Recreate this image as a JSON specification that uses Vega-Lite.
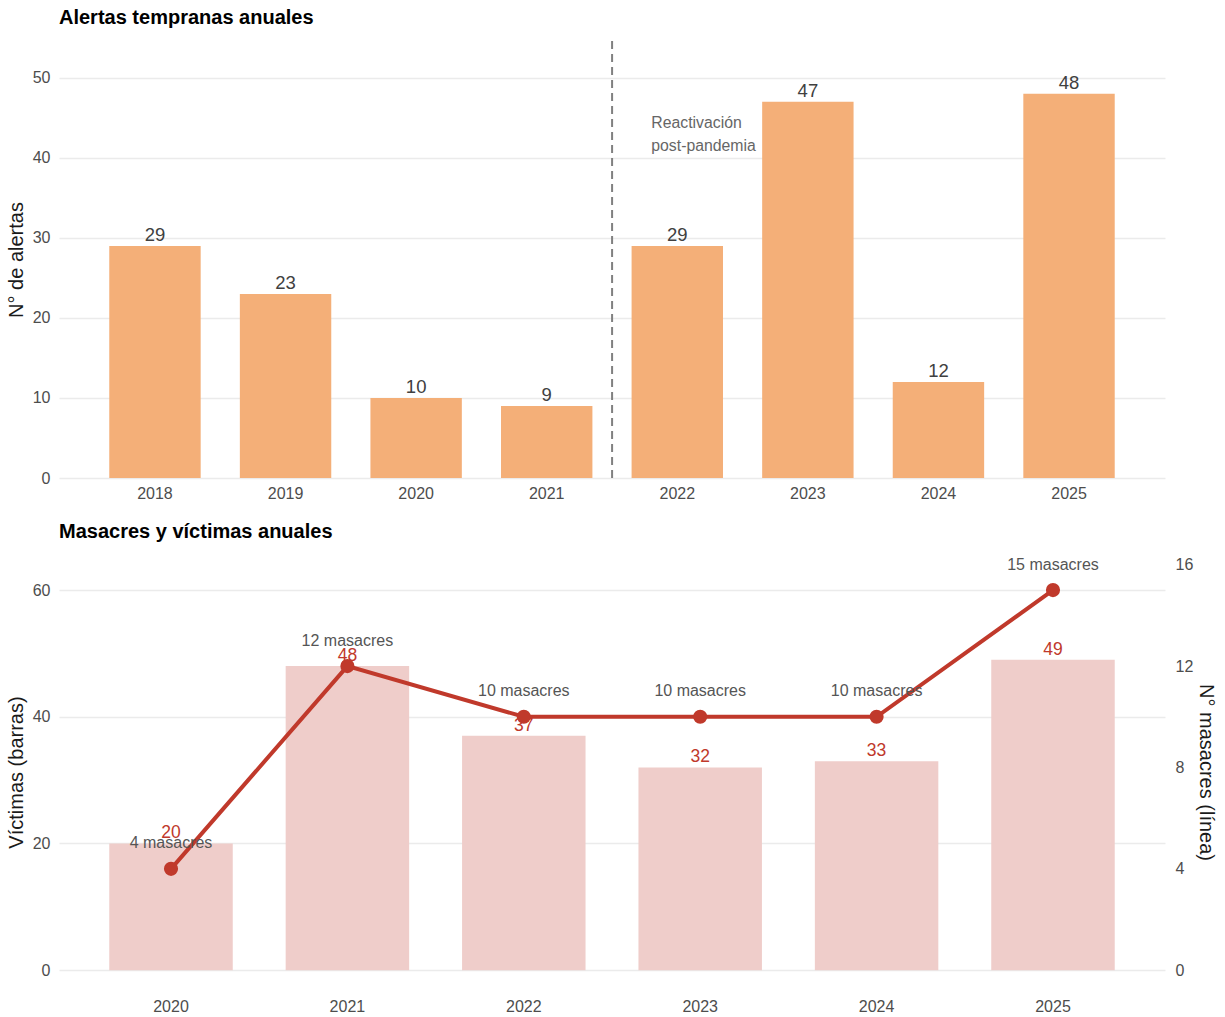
{
  "$schema": "https://vega.github.io/schema/vega-lite/v6.json",
  "padding": {"left": 6, "top": 8, "right": 0, "bottom": 0},
  "background": "white",
  "spacing": 21,
  "config": {
    "view": {"stroke": null},
    "font": "Liberation Sans",
    "title": {"anchor": "start", "frame": "group", "fontSize": 20, "fontWeight": "bold", "color": "#000000", "offset": 12},
    "axis": {"ticks": false, "domain": false, "labelFontSize": 16, "labelColor": "#4D4D4D", "titleFontSize": 20, "titleFontWeight": "normal", "titleColor": "#1A1A1A", "gridColor": "#EBEBEB", "gridWidth": 1.5}
  },
  "vconcat": [
    {
      "title": {"text": "Alertas tempranas anuales"},
      "width": 1106,
      "height": 437,
      "data": {"values": [
        {"anio": "2018", "alertas": 29},
        {"anio": "2019", "alertas": 23},
        {"anio": "2020", "alertas": 10},
        {"anio": "2021", "alertas": 9},
        {"anio": "2022", "alertas": 29},
        {"anio": "2023", "alertas": 47},
        {"anio": "2024", "alertas": 12},
        {"anio": "2025", "alertas": 48}
      ]},
      "layer": [
        {"mark": {"type": "bar", "color": "#F4AF78"},
         "encoding": {
           "x": {"field": "anio", "type": "ordinal", "scale": {"paddingInner": 0.3, "paddingOuter": 0.385},
                 "axis": {"title": null, "labelAngle": 0, "labelPadding": 7, "grid": false}},
           "y": {"field": "alertas", "type": "quantitative", "scale": {"domain": [0, 54.6], "nice": false},
                 "axis": {"title": "N° de alertas", "values": [0, 10, 20, 30, 40, 50], "grid": true, "labelPadding": 9, "titlePadding": 6}}
         }},
        {"mark": {"type": "text", "baseline": "bottom", "dy": -1, "fontSize": 18.5, "color": "#404040"},
         "encoding": {
           "x": {"field": "anio", "type": "ordinal"},
           "y": {"field": "alertas", "type": "quantitative"},
           "text": {"field": "alertas", "type": "quantitative"}}},
        {"data": {"values": [{"corte": "2022"}]},
         "mark": {"type": "rule", "xOffset": -65.2, "strokeDash": [8, 5], "strokeWidth": 2, "color": "#808080"},
         "encoding": {"x": {"field": "corte", "type": "ordinal"}}},
        {"data": {"values": [{"corte": "2022", "pos": 44.3}]},
         "mark": {"type": "text", "align": "left", "baseline": "middle", "dx": -26, "fontSize": 15.8, "lineHeight": 23, "color": "#666666",
                  "lineBreak": "\n"},
         "encoding": {
           "x": {"field": "corte", "type": "ordinal"},
           "y": {"field": "pos", "type": "quantitative"},
           "text": {"value": "Reactivación\npost-pandemia"}}}
      ]
    },
    {
      "title": {"text": "Masacres y víctimas anuales"},
      "width": 1106,
      "height": 436,
      "data": {"values": [
        {"anio": "2020", "victimas": 20, "masacres": 4, "etiqueta": "4 masacres"},
        {"anio": "2021", "victimas": 48, "masacres": 12, "etiqueta": "12 masacres"},
        {"anio": "2022", "victimas": 37, "masacres": 10, "etiqueta": "10 masacres"},
        {"anio": "2023", "victimas": 32, "masacres": 10, "etiqueta": "10 masacres"},
        {"anio": "2024", "victimas": 33, "masacres": 10, "etiqueta": "10 masacres"},
        {"anio": "2025", "victimas": 49, "masacres": 15, "etiqueta": "15 masacres"}
      ]},
      "encoding": {
        "x": {"field": "anio", "type": "ordinal", "scale": {"paddingInner": 0.3, "paddingOuter": 0.285},
              "axis": {"title": null, "labelAngle": 0, "labelPadding": 8, "grid": false}}
      },
      "layer": [
        {
          "encoding": {
            "y": {"field": "victimas", "type": "quantitative", "scale": {"domain": [-3.13, 65.7], "nice": false, "zero": false},
                  "axis": {"title": "Víctimas (barras)", "values": [0, 20, 40, 60], "grid": true, "labelPadding": 9, "titlePadding": 6}}
          },
          "layer": [
            {"mark": {"type": "bar", "color": "#EFCDCA"}, "encoding": {"y2": {"datum": 0}}},
            {"mark": {"type": "text", "baseline": "bottom", "dy": -1, "fontSize": 17.5, "color": "#C0392B"},
             "encoding": {"text": {"field": "victimas", "type": "quantitative"}}}
          ]
        },
        {
          "encoding": {
            "y": {"field": "masacres", "type": "quantitative", "scale": {"domain": [-0.7825, 16.425], "nice": false, "zero": false},
                  "axis": {"title": "N° masacres (línea)", "orient": "right", "values": [0, 4, 8, 12, 16], "grid": false, "labelPadding": 10, "titlePadding": 3}}
          },
          "layer": [
            {"mark": {"type": "line", "color": "#C0392B", "strokeWidth": 4}},
            {"mark": {"type": "point", "filled": true, "opacity": 1, "size": 200, "color": "#C0392B"}},
            {"mark": {"type": "text", "baseline": "middle", "dy": -25.4, "fontSize": 16, "color": "#555555"},
             "encoding": {"text": {"field": "etiqueta", "type": "nominal"}}}
          ]
        }
      ],
      "resolve": {"scale": {"y": "independent"}}
    }
  ]
}
